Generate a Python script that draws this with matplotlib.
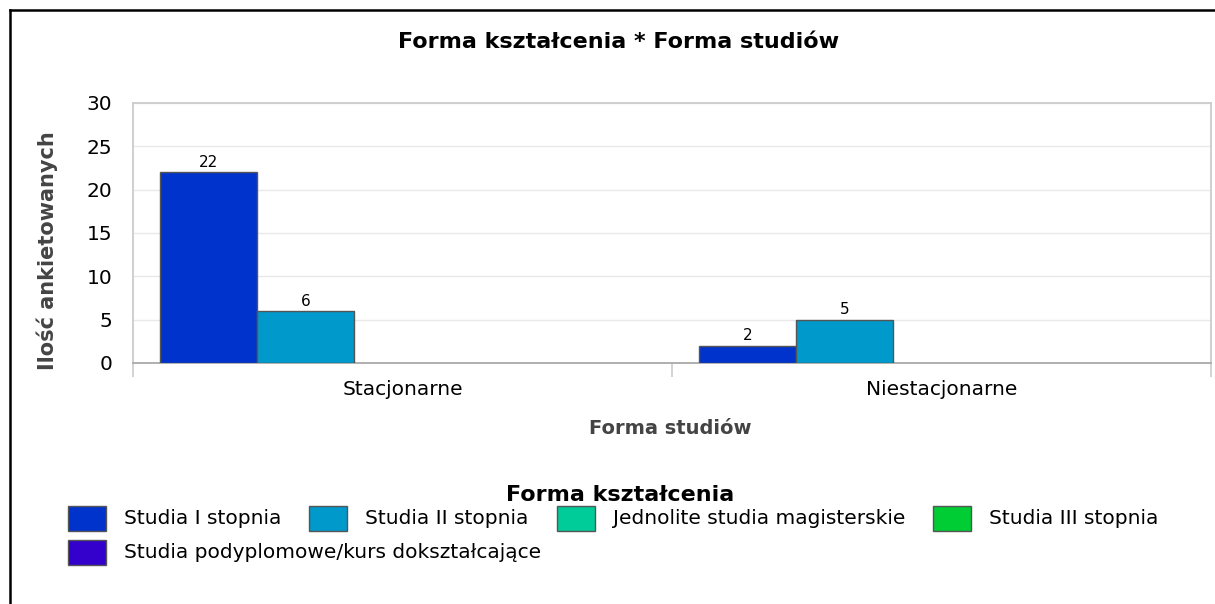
import matplotlib
matplotlib.use("Agg")
import matplotlib.pyplot as plt
from matplotlib.patches import Rectangle
from matplotlib.lines import Line2D
import numpy as np

categories = ["Stacjonarne", "Niestacjonarne"]
series_names = ["Studia I stopnia", "Studia II stopnia", "Jednolite studia magisterskie",
                "Studia III stopnia", "Studia podyplomowe/kurs dokształcające"]
series_values = [[22, 2], [6, 5], [0, 0], [0, 0], [0, 0]]
series_colors = ["#0033cc", "#0099cc", "#00cc99", "#00cc33", "#3300cc"]
y_ticks = [0, 5, 10, 15, 20, 25, 30]

title = "Forma kształcenia * Forma studiów"
x_label = "Forma studiów"
y_label = "Ilość ankietowanych"
legend_title = "Forma kształcenia"

W, H = 1215, 604
DPI = 100
fig = plt.figure(figsize=(W / DPI, H / DPI), dpi=DPI)
fig.patch.set_facecolor("white")

def fx(x):
    return x / W

def fy(y):
    return 1 - y / H

# frame lines (top and left)
fig.add_artist(Line2D([fx(10), fx(10)], [fy(10), fy(604)], color="black", lw=1.8,
                      transform=fig.transFigure))
fig.add_artist(Line2D([fx(10), fx(1215)], [fy(10), fy(10)], color="black", lw=1.8,
                      transform=fig.transFigure))

ax_l, ax_r, ax_t, ax_b = 133, 1211, 103, 363
ax = fig.add_axes([fx(ax_l), fy(ax_b), fx(ax_r - ax_l), (ax_b - ax_t) / H])
ax.set_xlim(-0.5, len(categories) - 0.5)
ax.set_ylim(0, 30)

n = len(series_names)
bw = 0.18
x = np.arange(len(categories))
for i, (vals, col) in enumerate(zip(series_values, series_colors)):
    pos = x + (i - (n - 1) / 2) * bw
    for p, v in zip(pos, vals):
        if v > 0:
            ax.bar(p, v, width=bw, color=col, edgecolor="#555555", linewidth=1.0, zorder=3)
            ax.text(p, v + 0.25, str(v), ha="center", va="bottom", fontsize=11,
                    family="DejaVu Sans", color="black", zorder=4)

TICK_FS = 14.5
ax.set_yticks(y_ticks)
ax.yaxis.grid(True, color="#e8e8e8", linewidth=1.0, zorder=0)
ax.set_axisbelow(True)
ax.tick_params(axis="y", length=0, pad=15, labelsize=TICK_FS, labelcolor="black")
for lab in ax.get_yticklabels():
    lab.set_family("DejaVu Sans")

ax.set_xticks([-0.5, 0.5, 1.5])
ax.set_xticklabels([])
ax.tick_params(axis="x", which="major", length=10, width=1.2, color="#cccccc")
ax.set_xticks(x, minor=True)
ax.set_xticklabels(categories, minor=True, fontsize=TICK_FS, family="DejaVu Sans")
ax.tick_params(axis="x", which="minor", length=0, pad=12)

for s in ["left", "top", "right"]:
    ax.spines[s].set_color("#cccccc")
    ax.spines[s].set_linewidth(1.3)
ax.spines["bottom"].set_color("#aaaaaa")
ax.spines["bottom"].set_linewidth(1.3)

# titles
fig.text(fx(619), fy(48), title, ha="center", va="baseline", fontsize=16,
         fontweight="bold", family="DejaVu Sans", color="black")
fig.text(fx(670), fy(434), x_label, ha="center", va="baseline", fontsize=14,
         fontweight="bold", family="DejaVu Sans", color="#444444")
fig.text(fx(47), fy(251), y_label, ha="center", va="center", rotation=90, fontsize=15,
         fontweight="bold", family="DejaVu Sans", color="#444444")
fig.text(fx(620), fy(501), legend_title, ha="center", va="baseline", fontsize=16,
         fontweight="bold", family="DejaVu Sans", color="black")

# legend, laid out manually in pixel space
fig.canvas.draw()
renderer = fig.canvas.get_renderer()
rows = [series_names[:4], series_names[4:]]
row_cy = [518, 552]
start_x = 68
box_w, box_h = 38, 25
gap_box_text = 18
gap_text_box = 28
idx = 0
for r, names in enumerate(rows):
    cx = start_x
    for name in names:
        col = series_colors[idx]
        idx += 1
        fig.add_artist(Rectangle((fx(cx), fy(row_cy[r] + box_h / 2)), box_w / W, box_h / H,
                                 transform=fig.transFigure, facecolor=col,
                                 edgecolor="#555555", linewidth=1.0))
        t = fig.text(fx(cx + box_w + gap_box_text), fy(row_cy[r]), name, ha="left",
                     va="center", fontsize=TICK_FS, family="DejaVu Sans", color="black")
        bb = t.get_window_extent(renderer=renderer)
        cx = cx + box_w + gap_box_text + bb.width + gap_text_box

fig.savefig("out.png", dpi=DPI, facecolor="white")
